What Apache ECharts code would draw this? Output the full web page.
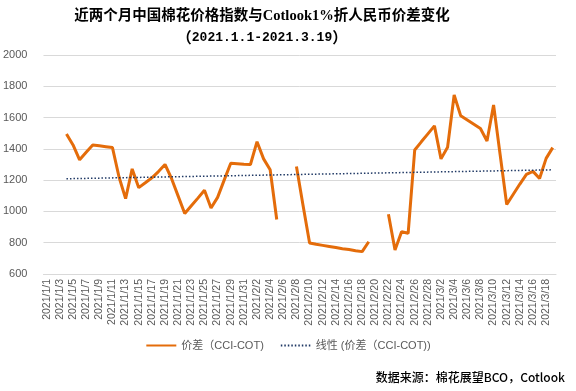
<!DOCTYPE html>
<html><head><meta charset="utf-8">
<script src="https://cdn.jsdelivr.net/npm/echarts@6/dist/echarts.min.js"></script>
<style>html,body{margin:0;padding:0;background:#fff}#c{width:576px;height:391px}</style>
</head><body><div id="c"></div>
<script>
// categories: every day 2021/1/1 .. 2021/3/19
const monthDays = [[1,31],[2,28],[3,19]];
const categories = [];
monthDays.forEach(([m,n]) => { for (let d = 1; d <= n; d++) categories.push('2021/' + m + '/' + d); });

// 价差 (CCI-COT), null = no data
const spread = [
  null, null, null, 1495, 1425, 1330, 1378, 1425, 1420, 1414,
  1408, 1220, 1082, 1272, 1152, 1183, 1215, 1255, 1300, 1209,
  1098, 987, 1036, 1085, 1135, 1022, 1090, 1200, 1308, 1305,
  1302, 1300, 1446, 1336, 1266, 948, null, null, 1287, 1040,
  798, 790, 783, 776, 769, 762, 756, 749, 743, 806,
  null, null, 982, 754, 870, 860, 1393, 1445, 1496, 1547,
  1336, 1410, 1744, 1611, 1584, 1557, 1530, 1450, 1681, 1362,
  1044, 1110, 1175, 1237, 1256, 1211, 1339, 1408
];
// linear trend line endpoints
const trendStartIndex = 3, trendStartValue = 1209;
const trendEndIndex = 77, trendEndValue = 1266;
const trend = categories.map((c, i) => i === trendStartIndex ? trendStartValue : (i === trendEndIndex ? trendEndValue : null));

const yTicks = { min: 600, max: 2000, interval: 200 };
const seriesNames = ['价差（CCI-COT)', '线性 (价差（CCI-COT))'];
const titleText = '近两个月中国棉花价格指数与Cotlook1%折人民币价差变化';
const subtitleRange = '2021.1.1-2021.3.19';
const sourceText = '数据来源：棉花展望BCO，Cotlook';

const chart = echarts.init(document.getElementById('c'));
chart.setOption({
  animation: false,
  backgroundColor: '#fff',
  grid: { left: 43, right: 20, top: 55, bottom: 117 },
  xAxis: {
    type: 'category', data: categories, boundaryGap: true,
    axisLine: { lineStyle: { color: '#d9d9d9' } },
    axisTick: { interval: 1, lineStyle: { color: '#d9d9d9' }, length: 4 },
    axisLabel: { interval: 1, rotate: 90, color: '#595959', fontSize: 10.5, fontFamily: 'Liberation Sans', margin: 5 }
  },
  yAxis: {
    type: 'value', min: yTicks.min, max: yTicks.max, interval: yTicks.interval,
    axisLine: { show: false }, axisTick: { show: false },
    axisLabel: { color: '#595959', fontSize: 11, fontFamily: 'Liberation Sans', margin: 16, formatter: v => String(v) },
    splitLine: { lineStyle: { color: '#d9d9d9', width: 1 } }
  },
  legend: {
    bottom: 35, left: 'center', itemGap: 16, itemWidth: 30, itemHeight: 10,
    itemStyle: { opacity: 0 },
    textStyle: { color: '#595959', fontSize: 11, fontFamily: 'Liberation Sans, Noto Sans CJK SC' },
    data: seriesNames
  },
  series: [
    { name: seriesNames[0], type: 'line', data: spread, symbol: 'none', connectNulls: false,
      lineStyle: { color: '#E46C0A', width: 3 }, itemStyle: { color: '#E46C0A' } },
    { name: seriesNames[1], type: 'line', data: trend, symbol: 'none', connectNulls: true,
      lineStyle: { color: '#1F3864', width: 1.5, type: [1.5, 2] }, itemStyle: { color: '#1F3864' } }
  ],
  graphic: [
    { type: 'text', x: 262, y: 9, style: { text: titleText, fill: '#000', font: 'bold 14.5px "Liberation Serif", "Noto Sans CJK SC"', textAlign: 'center' } },
    { type: 'text', x: 262, y: 30, style: {
        text: '{p|（}{t|' + subtitleRange + '}{p|）}', textAlign: 'center',
        rich: {
          p: { fontSize: 15, fontWeight: 'bold', fontFamily: 'Noto Sans CJK SC', fill: '#000' },
          t: { fontSize: 13, fontWeight: 'bold', fontFamily: 'Liberation Mono', fill: '#000' }
        } } },
    { type: 'text', x: 565, y: 371, style: { text: sourceText, fill: '#000', font: '500 12px "Noto Sans CJK SC"', textAlign: 'right' } }
  ]
});
</script></body></html>
